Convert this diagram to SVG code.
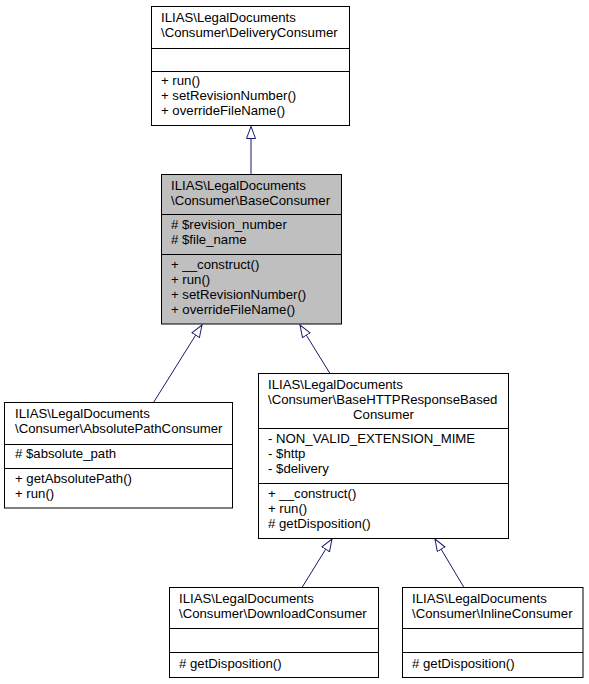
<svg xmlns="http://www.w3.org/2000/svg" width="589" height="684" viewBox="0 0 589 684">
<style>
  .box { fill: #ffffff; stroke: #000000; stroke-width: 1; }
  .cur { fill: #bfbfbf; stroke: #000000; stroke-width: 1; }
  .sep { stroke: #000000; stroke-width: 1; }
  text { font-family: "Liberation Sans", Arial, Helvetica, sans-serif; font-size: 13.2px; fill: #000000; }
  .edge { fill: none; stroke: #191970; stroke-width: 1; }
</style>
<defs>
  <marker id="inh" markerUnits="userSpaceOnUse" markerWidth="14" markerHeight="11" refX="12.5" refY="5" orient="auto">
    <path d="M0.5,0.5 L12.5,5 L0.5,9.5 Z" fill="#ffffff" stroke="#191970" stroke-width="1"/>
  </marker>
</defs>
<rect width="589" height="684" fill="#ffffff"/>

<g id="connectors">
  <path class="edge" d="M251,174.5 L251,126.5" marker-end="url(#inh)"/>
  <path class="edge" d="M153.5,402.5 L202,325" marker-end="url(#inh)"/>
  <path class="edge" d="M330,373.5 L300,325" marker-end="url(#inh)"/>
  <path class="edge" d="M302,587.5 L332,539" marker-end="url(#inh)"/>
  <path class="edge" d="M464,587.5 L435,539" marker-end="url(#inh)"/>
</g>

<g id="DeliveryConsumer">
  <rect class="box" x="151.5" y="6.5" width="198" height="119"/>
  <line class="sep" x1="151.5" y1="48.5" x2="349.5" y2="48.5"/>
  <line class="sep" x1="151.5" y1="71.5" x2="349.5" y2="71.5"/>
  <text x="161" y="22">ILIAS\LegalDocuments</text>
  <text x="161" y="37">\Consumer\DeliveryConsumer</text>
  <text x="161" y="85">+ run()</text>
  <text x="161" y="100">+ setRevisionNumber()</text>
  <text x="161" y="115">+ overrideFileName()</text>
</g>

<g id="BaseConsumer">
  <rect class="cur" x="161.5" y="174.5" width="180" height="149.5"/>
  <line class="sep" x1="161.5" y1="214.5" x2="341.5" y2="214.5"/>
  <line class="sep" x1="161.5" y1="254.5" x2="341.5" y2="254.5"/>
  <text x="171" y="190">ILIAS\LegalDocuments</text>
  <text x="171" y="205">\Consumer\BaseConsumer</text>
  <text x="171" y="229"># $revision_number</text>
  <text x="171" y="244"># $file_name</text>
  <text x="171" y="269">+ __construct()</text>
  <text x="171" y="284">+ run()</text>
  <text x="171" y="299">+ setRevisionNumber()</text>
  <text x="171" y="314">+ overrideFileName()</text>
</g>

<g id="AbsolutePathConsumer">
  <rect class="box" x="4.5" y="402.5" width="228" height="105.5"/>
  <line class="sep" x1="4.5" y1="444.5" x2="232.5" y2="444.5"/>
  <line class="sep" x1="4.5" y1="468.5" x2="232.5" y2="468.5"/>
  <text x="15" y="418">ILIAS\LegalDocuments</text>
  <text x="15" y="433">\Consumer\AbsolutePathConsumer</text>
  <text x="15" y="458"># $absolute_path</text>
  <text x="15" y="483">+ getAbsolutePath()</text>
  <text x="15" y="498">+ run()</text>
</g>

<g id="BaseHTTPResponseBasedConsumer">
  <rect class="box" x="258.5" y="373.5" width="250" height="165"/>
  <line class="sep" x1="258.5" y1="428.5" x2="508.5" y2="428.5"/>
  <line class="sep" x1="258.5" y1="483.5" x2="508.5" y2="483.5"/>
  <text x="268" y="389">ILIAS\LegalDocuments</text>
  <text x="268" y="404">\Consumer\BaseHTTPResponseBased</text>
  <text x="383.5" y="419" text-anchor="middle">Consumer</text>
  <text x="268" y="443">- NON_VALID_EXTENSION_MIME</text>
  <text x="268" y="458">- $http</text>
  <text x="268" y="473">- $delivery</text>
  <text x="268" y="498">+ __construct()</text>
  <text x="268" y="513">+ run()</text>
  <text x="268" y="528"># getDisposition()</text>
</g>

<g id="DownloadConsumer">
  <rect class="box" x="169.5" y="587.5" width="209" height="90"/>
  <line class="sep" x1="169.5" y1="628.5" x2="378.5" y2="628.5"/>
  <line class="sep" x1="169.5" y1="652.5" x2="378.5" y2="652.5"/>
  <text x="179" y="603">ILIAS\LegalDocuments</text>
  <text x="179" y="618">\Consumer\DownloadConsumer</text>
  <text x="179" y="668"># getDisposition()</text>
</g>

<g id="InlineConsumer">
  <rect class="box" x="402.5" y="587.5" width="180.5" height="90"/>
  <line class="sep" x1="402.5" y1="628.5" x2="583" y2="628.5"/>
  <line class="sep" x1="402.5" y1="652.5" x2="583" y2="652.5"/>
  <text x="412" y="603">ILIAS\LegalDocuments</text>
  <text x="412" y="618">\Consumer\InlineConsumer</text>
  <text x="412" y="668"># getDisposition()</text>
</g>
</svg>
